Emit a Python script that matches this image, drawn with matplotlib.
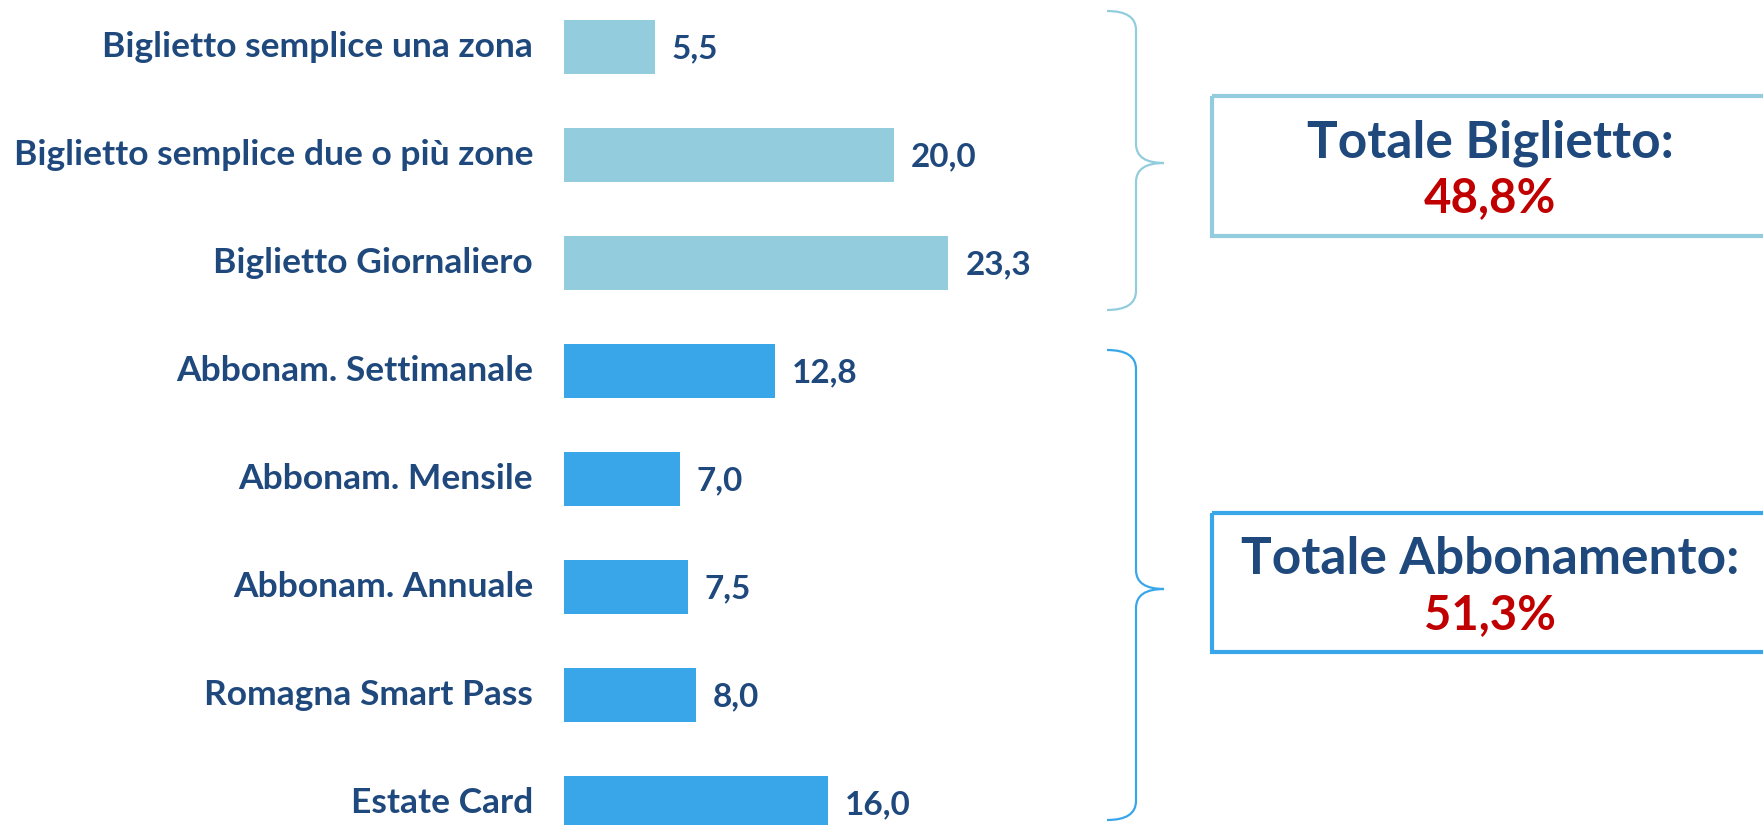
import matplotlib.pyplot as plt
import numpy as np
from matplotlib.path import Path
from matplotlib.patches import PathPatch, Rectangle

categorie = ['Biglietto semplice una zona', 'Biglietto semplice due o più zone',
             'Biglietto Giornaliero', 'Abbonam. Settimanale', 'Abbonam. Mensile',
             'Abbonam. Annuale', 'Romagna Smart Pass', 'Estate Card']
valori = [5.5, 20.0, 23.3, 12.8, 7.0, 7.5, 8.0, 16.0]
gruppo = ['biglietto'] * 3 + ['abbonamento'] * 5

col_big = '#93CDDD'
col_abb = '#38A6E8'
col_txt = '#1F497D'
col_red = '#C00000'
font = 'Lato'

W, H = 1763, 825
fig = plt.figure(figsize=(W / 100, H / 100), dpi=100)

# bars
ax = fig.add_axes([564 / W, 0, (W - 564) / W, 1])
y = np.arange(len(categorie))
colori = [col_big if g == 'biglietto' else col_abb for g in gruppo]
ax.barh(y, valori, height=0.5, color=colori)
ax.set_xlim(0, (W - 564) / 16.5)
row = 107.9
ax.set_ylim((H - 47.2) / row, -47.2 / row)
ax.axis('off')

for i, (c, v) in enumerate(zip(categorie, valori)):
    ax.annotate(c, xy=(0, i), xytext=(-31, 0), textcoords='offset pixels',
                ha='right', va='center', fontsize=25.5, fontweight='bold',
                color=col_txt, family=font, annotation_clip=False)
    ax.annotate(f'{v:.1f}'.replace('.', ','), xy=(v, i), xytext=(17, -2),
                textcoords='offset pixels', ha='left', va='center',
                fontsize=24, fontweight='bold', color=col_txt, family=font)

# braces and total boxes, in pixel coordinates
ov = fig.add_axes([0, 0, 1, 1])
ov.set_xlim(0, W)
ov.set_ylim(H, 0)
ov.axis('off')


def brace(top, mid, bottom, color):
    x0, x1, x2 = 1107, 1136, 1164
    r = 19
    verts = [(x0, top), (x1, top), (x1, top + r),
             (x1, mid - r), (x1, mid), (x2, mid),
             (x1, mid), (x1, mid + r),
             (x1, bottom - r), (x1, bottom), (x0, bottom)]
    codes = [Path.MOVETO, Path.CURVE3, Path.CURVE3,
             Path.LINETO, Path.CURVE3, Path.CURVE3,
             Path.CURVE3, Path.CURVE3,
             Path.LINETO, Path.CURVE3, Path.CURVE3]
    ov.add_patch(PathPatch(Path(verts, codes), fill=False, ec=color, lw=1.6))


brace(11, 163, 310, col_big)
brace(350, 589, 820, col_abb)

tot_big = sum(v for v, g in zip(valori, gruppo) if g == 'biglietto')
tot_abb = sum(v for v, g in zip(valori, gruppo) if g == 'abbonamento')

for top, bot, color, titolo, tot in [(96, 236, col_big, 'Totale Biglietto:', tot_big),
                                     (513, 652, col_abb, 'Totale Abbonamento:', tot_abb)]:
    ov.add_patch(Rectangle((1212, top), 570, bot - top, fill=False, ec=color, lw=3))
    cx = 1490
    ov.text(cx, top + 47, titolo, ha='center', va='center', fontsize=37,
            fontweight='bold', color=col_txt, family=font)
    ov.text(cx, top + 102, f'{tot:.1f}%'.replace('.', ','), ha='center', va='center',
            fontsize=34, fontweight='bold', color=col_red, family=font)

fig.savefig('out.png', dpi=100)
